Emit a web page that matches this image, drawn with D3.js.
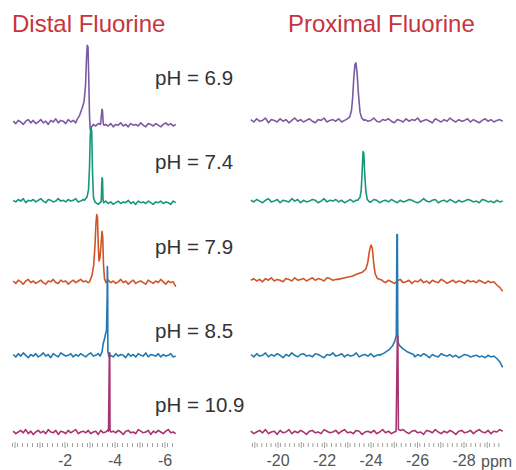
<!DOCTYPE html>
<html>
<head>
<meta charset="utf-8">
<script src="https://cdn.jsdelivr.net/npm/d3@7"></script>
<style>
  body { margin: 0; background: #fff; }
  text { font-family: "Liberation Sans", Arial, sans-serif; }
</style>
</head>
<body>
<div id="chart"></div>
<script>
//Rows, top to bottom
var pHs = ["6.9", "7.4", "7.9", "8.5", "10.9"];
var colors = ["#7a5ba3", "#17977a", "#cf5529", "#2479b0", "#a8336f"];
var panelTitles = ["Distal Fluorine", "Proximal Fluorine"];
var distalTickLabels = [-2, -4, -6];
var proximalTickLabels = [-20, -22, -24, -26, -28];

//Baseline samples (a.u.), distal panel: from 0.05 ppm every 0.1 ppm
var distalStart = 0.05, distalStep = 0.1;
var distalNoise = [
  [1,-2,2,0,-3,1,3,-1,2,-2,0,3,-1,1,-3,2,0,4,-1,2,1,-2,3,0,2,-1,3,1,4,2,
   -4,-6,-3,-5,-2,-4,-7,-3,-5,-2,-6,-3,-4,-1,-5,-3,-6,-2,-4,-3,-5,-1,-4,-6,-2,-3,-5,-2,-4,-6,-3,-1,-4,-2,-5,-3],
  [-1,-3,0,-2,1,-4,-1,-2,0,-3,-1,1,-2,-4,0,-1,-3,-2,1,-2,-1,-3,0,-2,-1,1,-3,-2,0,-1,
   -3,-5,-2,-4,-6,-3,-4,-2,-5,-3,-6,-4,-2,-5,-3,-4,-1,-5,-3,-6,-2,-4,-3,-5,-2,-4,-6,-3,-4,-2,-5,-3,-4,-6,-2,-4],
  [-5,-8,-4,-6,-9,-5,-3,-7,-5,-8,-6,-4,-7,-9,-5,-6,-3,-7,-8,-4,-6,-5,-9,-6,-4,-7,-5,-3,-6,-5,
   -7,-4,-6,-8,-5,-7,-9,-6,-4,-7,-5,-8,-6,-3,-7,-5,-9,-6,-4,-8,-6,-5,-7,-9,-4,-6,-8,-5,-7,-3,-6,-9,-5,-7,-6,-12],
  [0,-3,1,-2,2,-1,-4,0,-2,1,-3,-1,2,-2,0,-4,1,-1,-3,2,0,-2,-1,1,-3,0,-2,1,-1,-3,
   0,2,-2,-1,1,-3,0,-2,2,-1,-3,1,-2,0,-1,-4,1,-2,0,-3,1,-1,-2,2,-3,0,-1,-2,1,-3,0,-2,-1,1,-3,-2],
  [1,-2,0,2,-1,3,-2,1,-3,0,2,-1,1,-2,3,0,-1,2,-3,1,0,-2,2,-1,1,3,-2,0,1,-1,
   2,-2,0,1,-3,2,-1,0,3,-2,1,-1,2,0,-3,1,2,-1,0,-2,3,1,-1,0,2,-3,1,-1,2,0,-2,1,3,-1,0,-2]
];
//Peak regions [ppm, a.u.]
var distalPeaks = [
  [[[-2.5,3],[-2.6,8],[-2.7,17],[-2.78,25],[-2.84,45],[-2.88,80],[-2.91,96],[-2.94,94],[-2.97,55],[-3.0,8],[-3.03,-10],[-3.08,-6],[-3.15,-4]],
   [[-3.44,-3],[-3.48,10],[-3.5,16],[-3.52,14],[-3.55,-2],[-3.58,-4]]],
  [[[-2.8,-1],[-2.9,3],[-2.96,12],[-3.0,40],[-3.03,80],[-3.06,90],[-3.09,85],[-3.12,35],[-3.16,2],[-3.22,-3]],
   [[-3.47,-3],[-3.49,20],[-3.5,27],[-3.52,26],[-3.54,0],[-3.57,-4]]],
  [[[-3.0,-6],[-3.1,2],[-3.17,15],[-3.22,40],[-3.26,68],[-3.29,78],[-3.32,74],[-3.35,40],[-3.38,20],[-3.42,24],[-3.46,40],[-3.5,57],[-3.53,50],[-3.56,15],[-3.6,-2],[-3.66,-7]]],
  [[[-3.42,-2],[-3.5,3],[-3.55,14],[-3.59,18],[-3.63,24],[-3.68,30],[-3.705,70],[-3.715,110],[-3.725,100],[-3.735,4],[-3.78,-3]]],
  [[[-3.76,1],[-3.795,99],[-3.81,99],[-3.82,2],[-3.86,0]]]
];

//Proximal panel: from -18.85 ppm every 0.126 ppm
var proximalStart = -18.85, proximalStep = 0.126;
var proximalNoise = [
  [3,0,4,1,2,5,-1,3,2,0,4,1,3,-1,2,5,1,3,0,2,4,1,-1,3,2,5,0,2,3,1,
   4,0,2,-1,3,1,4,2,0,3,1,2,5,1,0,3,2,4,1,-1,3,2,0,4,1,3,2,5,0,2,
   3,1,-1,4,2,0,3,1,5,2,0,3,1,2,4,0,3,1,-1,2,4,1,3,0,2,3,1],
  [-1,-3,0,-2,-4,-1,1,-3,-2,0,-4,-1,-2,-3,1,-2,0,-4,-1,-3,-2,0,-1,-4,-2,1,-3,-1,-2,0,
   -3,-1,-4,-2,0,-3,-1,-2,-4,1,-2,-3,0,-1,-4,-2,-1,-3,0,-2,-4,-1,-3,-2,0,-1,-3,-4,-2,1,
   -2,-3,-1,0,-4,-2,-1,-3,0,-2,-4,-1,-3,-2,0,-1,-3,-2,-4,0,-1,-3,-2,-4,-1,-3,-2],
  [-4,-2,-5,-3,-6,-2,-4,-1,-5,-3,-4,-6,-2,-3,-5,-1,-4,-3,-2,-5,-3,-1,-4,-2,-3,-5,-1,-2,-4,-3,
   -2,-4,-1,-3,0,-2,1,-1,2,0,3,1,4,2,0,
   -5,-7,-4,-6,-8,-5,-3,-7,-6,-4,-8,-5,-6,-3,-7,-5,-8,-4,-6,-7,-3,-5,-8,-6,-4,-7,-5,-6,-8,-4,-6,-5,-7,-4,-6,-8,-5,-7,-6,-10,-13,-18],
  [0,-3,1,-2,-1,2,-3,0,-2,1,-1,-4,0,-2,2,-1,-3,0,1,-2,-1,-3,1,0,-2,-4,0,-1,2,-2,
   -1,1,-3,0,-2,-1,2,-3,-1,0,-2,1,-3,-1,
   0,2,4,7,10,14,20,12,8,5,2,
   -1,-3,0,-2,1,-1,-4,0,-2,-3,1,-1,-2,0,-3,-1,-4,-2,0,-1,-3,-2,-1,-3,-2,-4,-1,-3,-2,-5,-9,-16],
  [1,-2,0,2,-1,3,-2,0,1,-3,2,-1,0,3,-2,1,-1,2,0,-3,1,2,-1,0,-2,3,1,-1,0,2,
   -2,1,3,-1,0,-2,2,1,-3,0,1,-1,2,-2,0,3,-1,1,-2,0,2,-1,3,0,-2,1,2,-1,0,-3,
   2,1,-1,3,0,-2,1,-1,2,0,-3,1,2,-1,0,2,-2,1,3,0,-1,2,-2,1,0,3,1]
];
var proximalPeaks = [
  [[[-22.95,3],[-23.1,6],[-23.18,14],[-23.23,30],[-23.28,55],[-23.33,72],[-23.37,74],[-23.42,62],[-23.48,35],[-23.55,12],[-23.62,5],[-23.72,2]]],
  [[[-23.45,-1],[-23.55,3],[-23.6,12],[-23.64,35],[-23.68,60],[-23.71,58],[-23.75,32],[-23.8,10],[-23.86,0],[-23.95,-3]]],
  [[[-22.6,-3],[-22.9,-1],[-23.2,1],[-23.45,4],[-23.65,6],[-23.8,10],[-23.88,18],[-23.95,32],[-24.02,40],[-24.08,36],[-24.14,16],[-24.2,4],[-24.3,-2],[-24.5,-4]]],
  [[[-24.4,-1],[-24.6,2],[-24.8,6],[-24.95,11],[-25.05,17],[-25.11,24],[-25.135,150],[-25.155,150],[-25.175,16],[-25.25,11],[-25.4,7],[-25.6,3],[-25.85,0]]],
  [[[-25.1,1],[-25.155,120],[-25.175,120],[-25.2,3],[-25.3,2]]]
];

var width = 516,
  height = 470;

var svg = d3
  .select("#chart")
  .append("svg")
  .attr("width", width)
  .attr("height", height);

//Scales
var xDistal = d3.scaleLinear().domain([0.1, -6.3]).range([12, 172]);
var xProximal = d3.scaleLinear().domain([-18.9, -29.7]).range([252, 503]);
var row = d3.scalePoint().domain(pHs).range([122, 432]);
var amp = d3.scaleLinear().domain([0, 100]).range([0, -80]);
var labelY = d3.scaleLinear().domain([0, 3, 4]).range([85, 338, 412]);

//Merge baseline samples with peak regions
function tracePoints(noise, start, step, groups) {
  var pts = [];
  noise.forEach(function (v, i) {
    var p = start - i * step;
    var inside = groups.some(function (g) {
      return p <= g[0][0] && p >= g[g.length - 1][0];
    });
    if (!inside) pts.push([p, v]);
  });
  groups.forEach(function (g) {
    pts = pts.concat(g);
  });
  pts.sort(function (a, b) {
    return b[0] - a[0];
  });
  return pts;
}

function drawPanel(x, noise, start, step, peaks) {
  var g = svg.append("g");
  pHs.forEach(function (ph, i) {
    var line = d3
      .line()
      .x(function (d) { return x(d[0]); })
      .y(function (d) { return row(ph) + amp(d[1]); });
    g.append("path")
      .datum(tracePoints(noise[i], start, step, peaks[i]))
      .attr("fill", "none")
      .attr("stroke", colors[i])
      .attr("stroke-width", 1.6)
      .attr("stroke-linejoin", "round")
      .attr("d", line);
  });
}

drawPanel(xDistal, distalNoise, distalStart, distalStep, distalPeaks);
drawPanel(xProximal, proximalNoise, proximalStart, proximalStep, proximalPeaks);

//Axes: minor ticks, integer ticks, labels
function drawAxis(x, lo, hi, labels) {
  var minor = svg.append("g")
    .attr("transform", "translate(0,443)")
    .call(d3.axisBottom(x).tickValues(d3.range(hi, lo - 0.01, -0.2)).tickSize(4).tickFormat(""));
  var major = svg.append("g")
    .attr("transform", "translate(0,442)")
    .call(d3.axisBottom(x).tickValues(d3.range(Math.ceil(lo), Math.floor(hi) + 1)).tickSize(6).tickFormat(""));
  [minor, major].forEach(function (a) {
    a.select(".domain").remove();
    a.selectAll("line").attr("stroke", "#a0a0a0");
  });
  var lab = svg.append("g")
    .attr("transform", "translate(0,442)")
    .call(d3.axisBottom(x).tickValues(labels).tickSize(0).tickPadding(13)
      .tickFormat(function (d) { return String(d); }));
  lab.select(".domain").remove();
  lab.selectAll("text")
    .attr("fill", "#555")
    .style("font-size", "16px")
    .style("font-family", "'Liberation Sans', Arial, sans-serif");
}

drawAxis(xDistal, -6.3, 0.1, distalTickLabels);
drawAxis(xProximal, -29.6, -18.9, proximalTickLabels);

svg.append("text")
  .attr("x", 481)
  .attr("y", 467)
  .attr("fill", "#555")
  .style("font-size", "16px")
  .text("ppm");

//Panel titles
svg.selectAll(".title")
  .data(panelTitles)
  .enter()
  .append("text")
  .attr("class", "title")
  .attr("x", function (d, i) { return i == 0 ? 12 : 288; })
  .attr("y", 32)
  .attr("fill", "#c8343c")
  .style("font-size", "24px")
  .text(function (d) { return d; });

//pH labels
svg.selectAll(".ph")
  .data(pHs)
  .enter()
  .append("text")
  .attr("class", "ph")
  .attr("x", 155)
  .attr("y", function (d, i) { return labelY(i); })
  .attr("fill", "#333")
  .style("font-size", "20.5px")
  .text(function (d) { return "pH = " + d; });
</script>
</body>
</html>
